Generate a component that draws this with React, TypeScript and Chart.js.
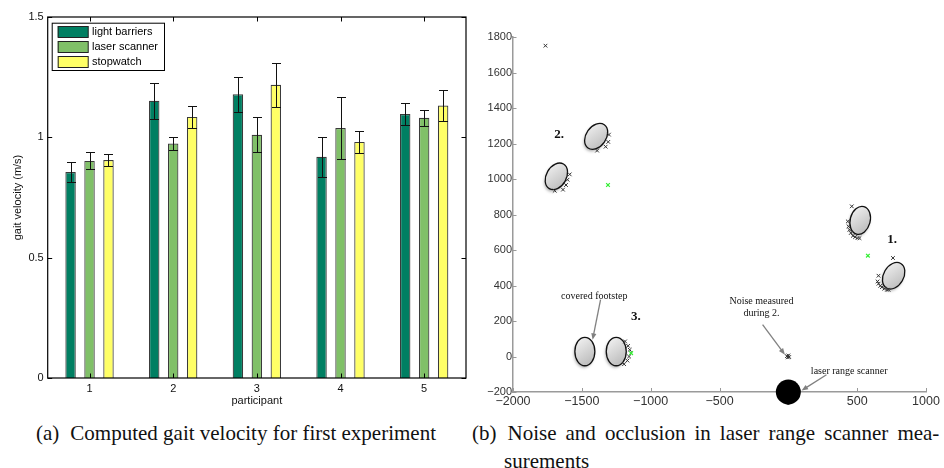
import React, { useEffect, useRef } from 'react';
import { Chart, registerables } from 'chart.js';

Chart.register(...registerables);

// ---------- (a) gait velocity data ----------
const participants = ['1', '2', '3', '4', '5'];
const lightBarriers = [0.856, 1.152, 1.179, 0.919, 1.097];
const lightBarriersErr = [0.042, 0.075, 0.072, 0.083, 0.044];
const laserScanner = [0.902, 0.974, 1.011, 1.039, 1.081];
const laserScannerErr = [0.035, 0.027, 0.074, 0.127, 0.033];
const stopwatch = [0.906, 1.085, 1.218, 0.981, 1.132];
const stopwatchErr = [0.024, 0.047, 0.092, 0.045, 0.065];
const seriesLabels = ['light barriers', 'laser scanner', 'stopwatch'];

// ---------- (b) laser scan data (mm) ----------
const strayPoints = [[-1764, 1751]];
const step1Points = [
  [461, 846], [432, 761], [437, 733], [444, 714], [454, 696], [469, 680], [485, 673], [502, 667], [517, 667],
  [760, 555], [655, 455], [648, 423], [655, 410], [668, 398], [680, 391], [697, 382], [717, 376], [728, 376],
];
const step2Points = [
  [-1303, 1250], [-1308, 1209], [-1327, 1182], [-1389, 1160],
  [-1588, 1026], [-1604, 996], [-1615, 966], [-1637, 940], [-1697, 934],
];
const step3Points = [[-1186, 85], [-1164, 60], [-1152, 38], [-1157, 0], [-1169, -23], [-1193, -43]];
const noisePoints = [[-10, 2], [0, 6], [6, -3], [-4, -5]];
const greenPoints = [[-1310, 966], [578, 568], [-1142, 19]];
const footstepCenters = [[522, 767], [765, 455], [-1396, 1240], [-1685, 1015], [-1478, 28], [-1250, 28]];
const footstepTilt = [15, 30, 35, 30, 0, 0];
const scannerPosition = [0, -200];
const annotationTexts = [
  { text: 'covered footstep', at: [-1410, 338], bold: false },
  { text: 'Noise measured', at: [-195, 310], bold: false },
  { text: 'during 2.', at: [-195, 245], bold: false },
  { text: 'laser range scanner', at: [442, -81], bold: false },
  { text: '1.', at: [754, 658], bold: true },
  { text: '2.', at: [-1665, 1250], bold: true },
  { text: '3.', at: [-1108, 222], bold: true },
];
const annotationArrows = [
  { from: [-1364, 320], to: [-1422, 94] },
  { from: [-187, 179], to: [-25, 10] },
  { from: [277, -103], to: [96, -192] },
];

const SANS = "'Liberation Sans', Arial, Helvetica, sans-serif";
const SERIF = "'Liberation Serif', 'Times New Roman', serif";
const barColors = ['#007f62', '#80c068', '#ffff66'];
const barErrors = [lightBarriersErr, laserScannerErr, stopwatchErr];

const toXY = (pts: number[][]) => pts.map(([x, y]) => ({ x, y }));
const fmtMinus = (v: any) => String(v).replace('-', '\u2212');

// ---------- plugins for (a) ----------
const errorBarPlugin = {
  id: 'errorBars',
  afterDatasetsDraw(chart: any) {
    const { ctx, scales: { y } } = chart;
    ctx.save();
    ctx.strokeStyle = '#111';
    ctx.lineWidth = 1;
    chart.data.datasets.forEach((ds: any, di: number) => {
      const meta = chart.getDatasetMeta(di);
      meta.data.forEach((bar: any, i: number) => {
        const v = ds.data[i];
        const e = barErrors[di][i];
        const x = Math.round(bar.x) + 0.5;
        const yt = Math.round(y.getPixelForValue(v + e)) + 0.5;
        const yb = Math.round(y.getPixelForValue(v - e)) + 0.5;
        ctx.beginPath();
        ctx.moveTo(x, yt); ctx.lineTo(x, yb);
        ctx.moveTo(x - 4.5, yt); ctx.lineTo(x + 4.5, yt);
        ctx.moveTo(x - 4.5, yb); ctx.lineTo(x + 4.5, yb);
        ctx.stroke();
      });
    });
    ctx.restore();
  },
};

const boxLegendPlugin = {
  id: 'boxLegend',
  afterDraw(chart: any) {
    const { ctx, chartArea: { left, right, top, bottom }, scales: { x, y } } = chart;
    ctx.save();
    ctx.strokeStyle = '#000';
    ctx.lineWidth = 1.2;
    ctx.strokeRect(left, top, right - left, bottom - top);
    ctx.lineWidth = 1;
    y.ticks.forEach((t: any) => {
      const py = Math.round(y.getPixelForValue(t.value)) + 0.5;
      ctx.beginPath();
      ctx.moveTo(left, py); ctx.lineTo(left + 4.5, py);
      ctx.moveTo(right, py); ctx.lineTo(right - 4.5, py);
      ctx.stroke();
    });
    participants.forEach((_, i) => {
      const px = Math.round(x.getPixelForValue(i)) + 0.5;
      ctx.beginPath();
      ctx.moveTo(px, top); ctx.lineTo(px, top + 4.5);
      ctx.moveTo(px, bottom); ctx.lineTo(px, bottom - 4.5);
      ctx.stroke();
    });
    // legend
    const lx = left + 4, ly = top + 5.7, w = 112.3, h = 47.3;
    ctx.fillStyle = '#fff';
    ctx.fillRect(lx, ly, w, h);
    ctx.strokeStyle = '#000';
    ctx.strokeRect(lx + 0.5, ly + 0.5, w, h);
    ctx.font = `11px ${SANS}`;
    ctx.textBaseline = 'middle';
    ctx.textAlign = 'left';
    chart.data.datasets.forEach((ds: any, i: number) => {
      const sy = ly + 3.3 + i * 15;
      ctx.fillStyle = ds.backgroundColor;
      ctx.fillRect(lx + 6, sy, 30.6, 11.3);
      ctx.strokeStyle = '#222';
      ctx.strokeRect(lx + 6.5, sy + 0.5, 30, 11);
      ctx.fillStyle = '#000';
      ctx.fillText(ds.label, lx + 40.3, sy + 6);
    });
    ctx.restore();
  },
};

// ---------- plugins for (b) ----------
const footstepPlugin = {
  id: 'footsteps',
  beforeDatasetsDraw(chart: any) {
    const { ctx, scales: { x, y } } = chart;
    footstepCenters.forEach(([cx, cy], i) => {
      const px = x.getPixelForValue(cx);
      const py = y.getPixelForValue(cy);
      ctx.save();
      ctx.shadowColor = 'rgba(0,0,0,0.3)';
      ctx.shadowBlur = 3;
      ctx.shadowOffsetX = -1;
      ctx.shadowOffsetY = 2;
      const g = ctx.createLinearGradient(px - 10, py - 14, px + 10, py + 14);
      g.addColorStop(0, '#f6f6f6');
      g.addColorStop(1, '#b4b4b4');
      ctx.fillStyle = g;
      ctx.beginPath();
      ctx.ellipse(px, py, 10, 14.2, (footstepTilt[i] * Math.PI) / 180, 0, Math.PI * 2);
      ctx.fill();
      ctx.shadowColor = 'transparent';
      ctx.strokeStyle = '#111';
      ctx.lineWidth = 1.3;
      ctx.stroke();
      ctx.restore();
    });
  },
};

function drawArrow(ctx: any, x1: number, y1: number, x2: number, y2: number) {
  const a = Math.atan2(y2 - y1, x2 - x1);
  ctx.beginPath();
  ctx.moveTo(x1, y1);
  ctx.lineTo(x2 - 5 * Math.cos(a), y2 - 5 * Math.sin(a));
  ctx.stroke();
  ctx.beginPath();
  ctx.moveTo(x2, y2);
  ctx.lineTo(x2 - 7 * Math.cos(a - 0.38), y2 - 7 * Math.sin(a - 0.38));
  ctx.lineTo(x2 - 7 * Math.cos(a + 0.38), y2 - 7 * Math.sin(a + 0.38));
  ctx.closePath();
  ctx.fill();
}

const scanAnnotPlugin = {
  id: 'scanAnnot',
  afterDraw(chart: any) {
    const { ctx, chartArea: { left, bottom }, scales: { x, y } } = chart;
    ctx.save();
    // ticks
    ctx.strokeStyle = '#999';
    ctx.lineWidth = 1;
    y.ticks.forEach((t: any) => {
      const py = Math.round(y.getPixelForValue(t.value)) + 0.5;
      ctx.beginPath();
      ctx.moveTo(left - 2, py); ctx.lineTo(left + 3.5, py);
      ctx.stroke();
    });
    x.ticks.forEach((t: any) => {
      const px = Math.round(x.getPixelForValue(t.value)) + 0.5;
      ctx.beginPath();
      ctx.moveTo(px, bottom); ctx.lineTo(px, bottom - 4);
      ctx.stroke();
    });
    // arrows
    ctx.strokeStyle = '#808080';
    ctx.fillStyle = '#808080';
    ctx.lineWidth = 1.3;
    annotationArrows.forEach(({ from, to }) => {
      drawArrow(ctx, x.getPixelForValue(from[0]), y.getPixelForValue(from[1]),
        x.getPixelForValue(to[0]), y.getPixelForValue(to[1]));
    });
    // scanner
    ctx.fillStyle = '#000';
    ctx.beginPath();
    ctx.arc(x.getPixelForValue(scannerPosition[0]), y.getPixelForValue(scannerPosition[1]), 12.5, 0, Math.PI * 2);
    ctx.fill();
    // texts
    ctx.textAlign = 'center';
    ctx.textBaseline = 'middle';
    annotationTexts.forEach(({ text, at, bold }) => {
      ctx.font = bold ? `bold 13px ${SERIF}` : `10px ${SERIF}`;
      ctx.fillStyle = '#111';
      ctx.fillText(text, x.getPixelForValue(at[0]), y.getPixelForValue(at[1]));
    });
    ctx.restore();
  },
};

function GaitChart() {
  const ref = useRef<HTMLCanvasElement | null>(null);
  useEffect(() => {
    const chart = new Chart(ref.current as HTMLCanvasElement, {
      type: 'bar',
      data: {
        labels: participants,
        datasets: [lightBarriers, laserScanner, stopwatch].map((d, i) => ({
          label: seriesLabels[i],
          data: d,
          backgroundColor: barColors[i],
          borderColor: '#3a3a3a',
          borderWidth: 1.2,
          categoryPercentage: 0.68,
          barPercentage: 0.55,
        })),
      },
      options: {
        responsive: false,
        animation: false,
        devicePixelRatio: 1,
        layout: { padding: { left: 0, right: 14, top: 17, bottom: 0 } },
        plugins: { legend: { display: false }, tooltip: { enabled: false } },
        scales: {
          x: {
            grid: { display: false, drawTicks: false },
            border: { display: false },
            ticks: { font: { family: SANS, size: 11 }, color: '#111', padding: 4 },
            title: { display: true, text: 'participant', font: { family: SANS, size: 11 }, color: '#111', padding: { top: 0, bottom: 12 } },
            afterFit: (s: any) => { s.height = 42; },
          },
          y: {
            min: 0, max: 1.5,
            grid: { display: false, drawTicks: false },
            border: { display: false },
            ticks: { stepSize: 0.5, font: { family: SANS, size: 11 }, color: '#111', padding: 4, callback: (v: any) => String(v) },
            title: { display: true, text: 'gait velocity (m/s)', font: { family: SANS, size: 11 }, color: '#111', padding: { top: 11.4, bottom: 0 } },
            afterFit: (s: any) => { s.width = 47.7; },
          },
        },
      },
      plugins: [errorBarPlugin, boxLegendPlugin],
    } as any);
    return () => chart.destroy();
  }, []);
  return <canvas ref={ref} width={480} height={420} style={{ position: 'absolute', left: 0, top: 0 }} />;
}

function ScanChart() {
  const ref = useRef<HTMLCanvasElement | null>(null);
  useEffect(() => {
    const chart = new Chart(ref.current as HTMLCanvasElement, {
      type: 'scatter',
      data: {
        datasets: [
          {
            label: 'scan points',
            data: toXY([...strayPoints, ...step1Points, ...step2Points, ...step3Points, ...noisePoints]),
            pointStyle: 'crossRot', pointRadius: 2.6, borderColor: '#333', borderWidth: 1, backgroundColor: '#333',
          },
          {
            label: 'unassigned points',
            data: toXY(greenPoints),
            pointStyle: 'crossRot', pointRadius: 2.6, borderColor: '#33ee33', borderWidth: 1.2, backgroundColor: '#33ee33',
          },
        ],
      },
      options: {
        responsive: false,
        animation: false,
        devicePixelRatio: 1,
        layout: { padding: { left: 0, right: 18, top: 37, bottom: 0 } },
        plugins: { legend: { display: false }, tooltip: { enabled: false } },
        scales: {
          x: {
            type: 'linear', min: -2000, max: 1000,
            grid: { display: false, drawTicks: false },
            border: { display: true, color: '#9a9a9a', width: 1.5 },
            ticks: { stepSize: 500, autoSkip: false, maxRotation: 0, font: { family: SANS, size: 12.5 }, color: '#333', padding: 2, callback: fmtMinus },
            afterFit: (s: any) => { s.height = 28; },
          },
          y: {
            type: 'linear', min: -200, max: 1800,
            grid: { display: false, drawTicks: false },
            border: { display: true, color: '#9a9a9a', width: 1.5 },
            ticks: { stepSize: 200, autoSkip: false, font: { family: SANS, size: 11 }, color: '#333', padding: 1, callback: fmtMinus },
            afterFit: (s: any) => { s.width = 33; },
          },
        },
      },
      plugins: [footstepPlugin, scanAnnotPlugin],
    } as any);
    return () => chart.destroy();
  }, []);
  return <canvas ref={ref} width={464} height={420} style={{ position: 'absolute', left: 480, top: 0 }} />;
}

export default function App() {
  const cap: React.CSSProperties = {
    position: 'absolute', fontFamily: SERIF, fontSize: 21, lineHeight: '24px', whiteSpace: 'nowrap', color: '#111',
  };
  return (
    <div style={{ position: 'absolute', left: 0, top: 0, width: 944, height: 468, background: '#fff', overflow: 'hidden' }}>
      <GaitChart />
      <ScanChart />
      <div style={{ ...cap, left: 36, top: 421 }}>
        (a)<span style={{ marginLeft: 11 }}>Computed gait velocity for first experiment</span>
      </div>
      <div style={{ ...cap, left: 472, top: 421, wordSpacing: '3.8px' }}>
        (b)<span style={{ marginLeft: 11 }}>Noise and occlusion in laser range scanner mea-</span>
      </div>
      <div style={{ ...cap, left: 504, top: 449 }}>surements</div>
    </div>
  );
}
